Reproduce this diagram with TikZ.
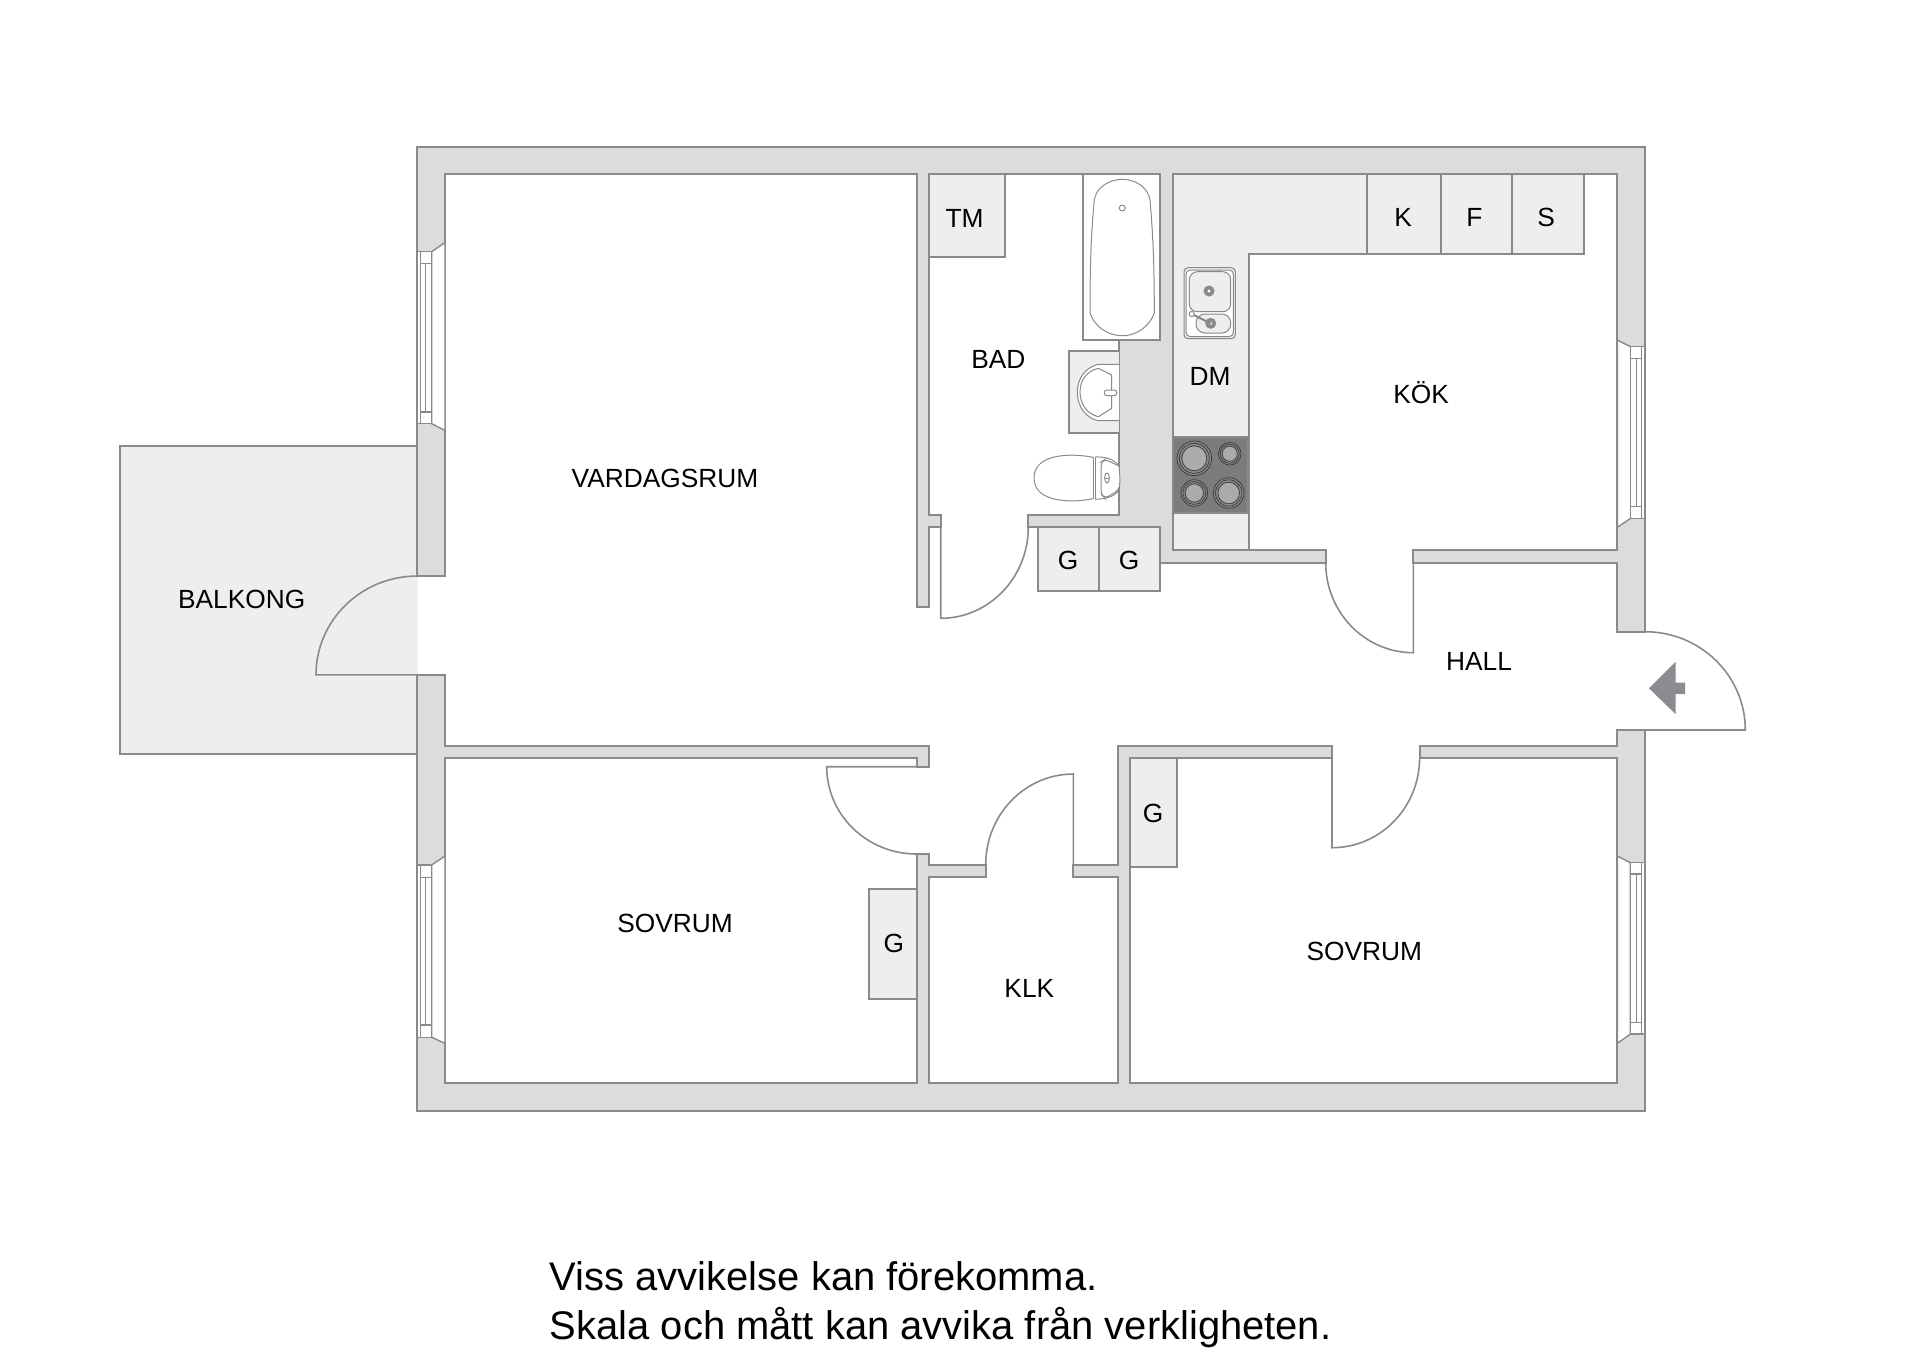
\documentclass[tikz,border=0pt]{standalone}
\usepackage{tikz}
\usepackage{fontspec}
\setmainfont{Liberation Sans}
\definecolor{linegrey}{HTML}{8A8A8A}
\definecolor{wallgrey}{HTML}{DCDCDC}
\definecolor{fixgrey}{HTML}{EEEEEE}
\definecolor{stovegrey}{HTML}{7C7C7C}
\definecolor{plategrey}{HTML}{ABABAB}
\definecolor{ringgrey}{HTML}{3F3F3F}
\definecolor{arrowgrey}{HTML}{8B8C90}
\tikzset{
    wall/.style={draw=linegrey, line width=1pt, fill=wallgrey},
    room/.style={draw=linegrey, line width=1pt, fill=white},
    fixture/.style={draw=linegrey, line width=1pt, fill=fixgrey},
    door/.style={draw=linegrey, line width=0.8pt},
    pane/.style={draw=linegrey, line width=0.7pt, fill=white},
    ware/.style={draw=linegrey, line width=0.5pt, fill=white},
    ring/.style={draw=ringgrey, line width=0.4pt, fill=linegrey},
    plate/.style={draw=ringgrey, line width=0.4pt, fill=plategrey},
    label/.style={inner sep=0pt, text height=9.5pt, text depth=0pt, font=\fontsize{13.15}{16}\selectfont},
    note/.style={inner sep=0pt, anchor=base west, font=\fontsize{19.97}{24}\selectfont}
}
\begin{document}
\begin{tikzpicture}[x=0.5pt, y=-0.5pt]
    \useasboundingbox (0,0) rectangle (1920,1357);

    % Balcony and outer wall
    \draw[fixture] (417.3,446.2) -- (120,446.2) -- (120,753.6) -- (417.3,753.6);
    \fill[wallgrey] (417.3,147) rectangle (1645,1110.7);
    \draw[wall, fill=none] (417.3,576) -- (417.3,147) -- (1645,147) -- (1645,1110.7) -- (417.3,1110.7) -- (417.3,674.8);

    % All rooms are one open floor, walls stay as the grey left over
    \draw[room] (417.3,576) -- (445,576) -- (445,174.3) -- (916.7,174.3) -- (916.7,606.7) -- (929.3,606.7)
        -- (929.3,527) -- (940.7,527) -- (940.7,515) -- (929.3,515) -- (929.3,174.3) -- (1160.3,174.3)
        -- (1160.3,340) -- (1119,340) -- (1119,515) -- (1028.3,515) -- (1028.3,527) -- (1160.3,527)
        -- (1160.3,562.7) -- (1325.7,562.7) -- (1325.7,550.3) -- (1172.7,550.3) -- (1172.7,174.3)
        -- (1617.3,174.3) -- (1617.3,550.3) -- (1413.3,550.3) -- (1413.3,562.7) -- (1617.3,562.7)
        -- (1617.3,631.7) -- (1645,631.7) -- (1645,730) -- (1617.3,730) -- (1617.3,745.7) -- (1419.6,745.7)
        -- (1419.6,757.7) -- (1617.3,757.7) -- (1617.3,1083.3) -- (1130,1083.3) -- (1130,757.7) -- (1332,757.7)
        -- (1332,745.7) -- (1118.3,745.7) -- (1118.3,864.7) -- (1073.3,864.7) -- (1073.3,876.7) -- (1118.3,876.7)
        -- (1118.3,1083.3) -- (929,1083.3) -- (929,876.7) -- (985.7,876.7) -- (985.7,864.7) -- (929,864.7)
        -- (929,854) -- (916.7,854) -- (916.7,1083.3) -- (445,1083.3) -- (445,757.7) -- (916.7,757.7)
        -- (916.7,766.7) -- (929,766.7) -- (929,745.7) -- (445,745.7) -- (445,674.8) -- (417.3,674.8);
    % Entrance gap
    \fill[white] (1641,632.8) rectangle (1649,728.9);

    % Doors
    \draw[door] (940.7,527) -- (940.7,618.3) arc[start angle=90, end angle=0, x radius=87.6, y radius=91.3];
    \draw[door] (1413.3,562.7) -- (1413.3,652.7) arc[start angle=90, end angle=180, x radius=87.6, y radius=90];
    \draw[door] (1645,730) -- (1745.3,730) arc[start angle=0, end angle=-90, x radius=100.3, y radius=98.3];
    \draw[door] (417.3,674.8) -- (316,674.8) arc[start angle=180, end angle=270, x radius=101.3, y radius=98.8];
    \draw[door] (916.7,766.7) -- (826.7,766.7) arc[start angle=180, end angle=90, x radius=90, y radius=87.3];
    \draw[door] (1073.3,864.7) -- (1073.3,774) arc[start angle=270, end angle=180, x radius=87.6, y radius=90.7];
    \draw[door] (1332,757.7) -- (1332,847.7) arc[start angle=90, end angle=0, x radius=87.6, y radius=90];

    % Entrance arrow
    \fill[arrowgrey] (1649,688.3) -- (1675.7,661.7) -- (1675.7,682.7) -- (1685,682.7) -- (1685,694) -- (1675.7,694) -- (1675.7,714.3) -- cycle;

    % Windows
    \draw[pane] (445,242.5) -- (431.7,251.7) -- (431.7,423.7) -- (445,430.5) -- cycle;
    \draw[pane] (417.3,251.7) rectangle (431.7,423.7);
    \draw[pane] (420.7,251.7) -- (420.7,423.7);
    \draw[pane] (420.7,263.4) -- (431.7,263.4) (420.7,412) -- (431.7,412) (425.7,263.4) -- (425.7,412);

    \draw[pane] (445,856) -- (431.7,865) -- (431.7,1037.3) -- (445,1043.3) -- cycle;
    \draw[pane] (417.3,865) rectangle (431.7,1037.3);
    \draw[pane] (420.7,865) -- (420.7,1037.3);
    \draw[pane] (420.7,877.3) -- (431.7,877.3) (420.7,1025) -- (431.7,1025) (425.7,877.3) -- (425.7,1025);

    \draw[pane] (1617.3,340) -- (1630.7,346.7) -- (1630.7,518.3) -- (1617.3,527.3) -- cycle;
    \draw[pane] (1630.7,346.7) rectangle (1645,518.3);
    \draw[pane] (1641.7,346.7) -- (1641.7,518.3);
    \draw[pane] (1630.7,358.3) -- (1641.7,358.3) (1630.7,506.7) -- (1641.7,506.7) (1636.3,358.3) -- (1636.3,506.7);

    \draw[pane] (1617.3,856) -- (1630.4,862.7) -- (1630.4,1034) -- (1617.3,1043.3) -- cycle;
    \draw[pane] (1630.4,862.7) rectangle (1645,1034);
    \draw[pane] (1641.7,862.7) -- (1641.7,1034);
    \draw[pane] (1630.4,874) -- (1641.7,874) (1630.4,1022.7) -- (1641.7,1022.7) (1636.3,874) -- (1636.3,1022.7);

    % Cupboards
    \draw[fixture] (929.3,174.3) rectangle (1005,257.3);
    \draw[fixture] (1037.7,527) rectangle (1099,590.7);
    \draw[fixture] (1099,527) rectangle (1160.3,590.7);
    \draw[fixture] (1130,757.7) rectangle (1176.8,867);
    \draw[fixture] (869,889.3) rectangle (916.7,999);

    % Kitchen bench
    \draw[fixture] (1172.7,174.3) -- (1584,174.3) -- (1584,254) -- (1249,254) -- (1249,550.3) -- (1172.7,550.3) -- cycle;
    \draw[fixture] (1367,174.3) -- (1367,254) (1440.6,174.3) -- (1440.6,254) (1511.7,174.3) -- (1511.7,254);

    % Sink
    \draw[ware, fill=fixgrey, rounded corners=2pt] (1184,267.7) rectangle (1235.3,338.7);
    \draw[ware, rounded corners=2pt] (1186,270) rectangle (1233.3,336.5);
    \draw[ware, fill=fixgrey, rounded corners=4pt] (1189.3,271.7) rectangle (1230.7,311.7);
    \draw[ware, fill=fixgrey, rounded corners=4.5pt] (1196,314) rectangle (1230.7,333);
    \draw[ware, fill=linegrey] (1209,291) circle (5);
    \fill[white] (1209,291) circle (1.6);
    \draw[ware, fill=linegrey] (1210.7,323.3) circle (5);
    \fill[white] (1210.7,323.3) circle (1.6);
    \draw[ware, line width=1pt] (1191.7,314) -- (1210.7,323.3);
    \draw[ware] (1191.7,314) circle (2.6);

    % Stove
    \draw[draw=linegrey, line width=1pt, fill=stovegrey] (1172.7,437) rectangle (1248,512.7);
    \draw[ring] (1194.3,458.3) circle (17.3);
    \draw[ring] (1194.3,458.3) circle (15);
    \draw[plate] (1194.3,458.3) circle (12.5);
    \draw[ring] (1229.7,453.7) circle (11.3);
    \draw[ring] (1229.7,453.7) circle (9.6);
    \draw[plate] (1229.7,453.7) circle (7.6);
    \draw[ring] (1194.3,493) circle (13.3);
    \draw[ring] (1194.3,493) circle (11.4);
    \draw[plate] (1194.3,493) circle (9.2);
    \draw[ring] (1228.7,493) circle (15.3);
    \draw[ring] (1228.7,493) circle (13.2);
    \draw[plate] (1228.7,493) circle (10.8);

    % Bath tub
    \draw[draw=linegrey, line width=1pt, fill=white] (1083.3,174.3) rectangle (1160.3,340);
    \draw[ware] (1094.3,200) .. controls (1096,187) and (1110,179.3) .. (1122.3,179.3)
        .. controls (1135,179.3) and (1148,187) .. (1150,200)
        .. controls (1153,235) and (1154.3,265) .. (1154.3,313)
        .. controls (1150,325) and (1138,335.7) .. (1122.3,335.7)
        .. controls (1106,335.7) and (1094,325) .. (1090,313)
        .. controls (1090,265) and (1091,235) .. (1094.3,200) -- cycle;
    \draw[ware] (1122.3,208) circle (3);

    % Wash basin
    \draw[fixture] (1119,350.7) -- (1068.7,350.7) -- (1068.7,433.3) -- (1119,433.3);
    \draw[ware] (1119,364.3) -- (1098.3,364.3) .. controls (1086,367) and (1077.3,378) .. (1077.3,392)
        .. controls (1077.3,407) and (1086,418) .. (1098.3,420.7) -- (1119,420.7);
    \draw[ware] (1098.3,368.3) -- (1111.7,375) -- (1111.7,408.3) -- (1098.3,416.7)
        .. controls (1087,414) and (1080,404) .. (1080,392) .. controls (1080,380) and (1087,371) .. (1098.3,368.3) -- cycle;
    \draw[ware, rounded corners=1.2pt] (1104.3,390) rectangle (1116.7,395.7);

    % Toilet
    \draw[ware] (1093,457.3) .. controls (1075,453.5) and (1034,452) .. (1034,478)
        .. controls (1034,504) and (1075,502.5) .. (1093,498.7);
    \draw[ware] (1093,457.3) -- (1093,498.7) (1095,457) -- (1095,499);
    \draw[ware, fill=none] (1095,457) .. controls (1105,456.5) and (1114,459) .. (1119,466);
    \draw[ware, fill=none] (1095,499) .. controls (1105,499.5) and (1114,497) .. (1119,490);
    \draw[ware, rounded corners=2pt] (1119,466) -- (1105,459.3) -- (1101,462) -- (1101,494) -- (1105,498.3) -- (1119,490) .. controls (1120,482) and (1120,474) .. (1119,466);
    \draw[ware] (1107,478) ellipse (2.4 and 5);
    \draw[ware] (1104.6,478) -- (1109.4,478);

    % Room names
    \node[label] (vardagsrum) at (665,478) {VARDAGSRUM};
    \node[label] (balkong) at (241.7,599) {BALKONG};
    \node[label] (bad) at (998.3,359.3) {BAD};
    \node[label] (kok) at (1421,394) {KÖK};
    \node[label] (hall) at (1479,660.7) {HALL};
    \node[label] (sovrumleft) at (675,923.2) {SOVRUM};
    \node[label] (sovrumright) at (1364.3,950.7) {SOVRUM};
    \node[label] (klk) at (1029.3,987.7) {KLK};

    % Fixture names
    \node[label] (tm) at (964.5,218) {TM};
    \node[label] (dm) at (1210,376) {DM};
    \node[label] (kyl) at (1403,217) {K};
    \node[label] (frys) at (1474.5,217) {F};
    \node[label] (skap) at (1546,217) {S};
    \node[label] (gone) at (1068,560) {G};
    \node[label] (gtwo) at (1129,560) {G};
    \node[label] (gthree) at (1153,813.3) {G};
    \node[label] (gfour) at (893.8,942.7) {G};

    % Disclaimer
    \node[note] (lineone) at (549.5,1290.8) {Viss avvikelse kan förekomma.};
    \node[note] (linetwo) at (549.5,1339.8) {Skala och mått kan avvika från verkligheten.};
\end{tikzpicture}
\end{document}
